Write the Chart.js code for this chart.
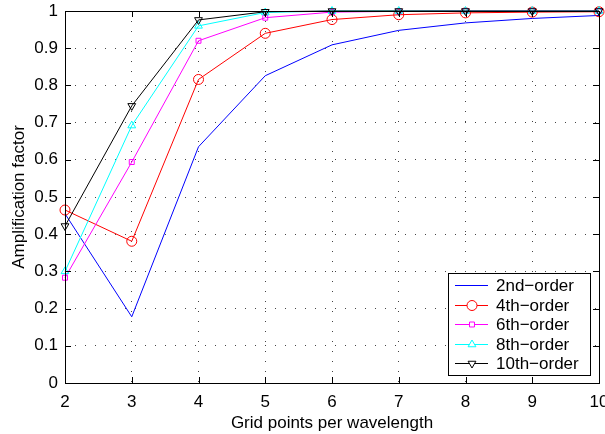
<!DOCTYPE html>
<html>
<head>
<meta charset="utf-8">
<script src="https://cdn.jsdelivr.net/npm/chart.js@4"></script>
<style>
  html, body { margin: 0; padding: 0; background: #fff; }
  #wrap { width: 605px; height: 434px; position: relative; }
</style>
</head>
<body>
<div id="wrap"><canvas id="chart" width="605" height="434"></canvas></div>
<script>
// Data
const gridPoints = [2, 3, 4, 5, 6, 7, 8, 9, 10];
const order2 = [0.455, 0.178, 0.635, 0.826, 0.909, 0.948, 0.968, 0.980, 0.988];
const order4 = [0.465, 0.381, 0.816, 0.940, 0.977, 0.990, 0.995, 0.997, 0.998];
const order6 = [0.283, 0.594, 0.920, 0.982, 0.997, 0.999, 1.0, 1.0, 1.0];
const order8 = [0.300, 0.692, 0.960, 0.996, 1.0, 1.0, 1.0, 1.0, 1.0];
const order10 = [0.422, 0.745, 0.976, 0.998, 1.0, 1.0, 1.0, 1.0, 1.0];
const seriesNames = ['2nd\u2212order', '4th\u2212order', '6th\u2212order', '8th\u2212order', '10th\u2212order'];
const yTicks = [0, 0.1, 0.2, 0.3, 0.4, 0.5, 0.6, 0.7, 0.8, 0.9, 1];

const FONT = 'Liberation Sans, Arial, Helvetica, sans-serif';

const styles = [
    { color: '#0000ff', point: false, rot: 0, r: 0 },
    { color: '#ff0000', point: 'circle', rot: 0, r: 5 },
    { color: '#ff00ff', point: 'rect', rot: 0, r: 3.5 },
    { color: '#00ffff', point: 'triangle', rot: 0, r: 4.5 },
    { color: '#000000', point: 'triangle', rot: 180, r: 4.5 }
];

const allSeries = [order2, order4, order6, order8, order10];

const datasets = allSeries.map((vals, i) => ({
    label: seriesNames[i],
    data: gridPoints.map((x, j) => ({ x: x, y: vals[j] })),
    borderColor: styles[i].color,
    backgroundColor: 'rgba(0,0,0,0)',
    borderWidth: 1,
    pointStyle: styles[i].point,
    pointRotation: styles[i].rot,
    pointRadius: styles[i].r,
    pointBorderWidth: 1,
    pointBorderColor: styles[i].color,
    pointBackgroundColor: 'rgba(0,0,0,0)',
    tension: 0,
    clip: false,
    order: allSeries.length - i
}));

// Inward ticks, box, and legend drawn MATLAB-style
const matlabFrame = {
    id: 'matlabFrame',
    afterDraw(chart) {
        const ctx = chart.ctx;
        const a = chart.chartArea;
        const xs = chart.scales.x, ys = chart.scales.y;
        ctx.save();
        ctx.setLineDash([]);
        ctx.strokeStyle = '#000';
        ctx.lineWidth = 1;
        ctx.beginPath();
        gridPoints.forEach(v => {
            const px = Math.round(xs.getPixelForValue(v)) + 0.5;
            ctx.moveTo(px, a.bottom); ctx.lineTo(px, a.bottom - 6);
            ctx.moveTo(px, a.top); ctx.lineTo(px, a.top + 6);
        });
        yTicks.forEach(v => {
            const py = Math.round(ys.getPixelForValue(v)) + 0.5;
            ctx.moveTo(a.left, py); ctx.lineTo(a.left + 6, py);
            ctx.moveTo(a.right, py); ctx.lineTo(a.right - 6, py);
        });
        ctx.stroke();
        ctx.strokeRect(Math.round(a.left) + 0.5, Math.round(a.top) + 0.5,
            Math.round(a.right - a.left), Math.round(a.bottom - a.top));

        // legend
        const lx = 448, ly = 273, lw = 142, lh = 102;
        ctx.fillStyle = '#fff';
        ctx.fillRect(lx, ly, lw, lh);
        ctx.strokeStyle = '#000';
        ctx.strokeRect(lx + 0.5, ly + 0.5, lw, lh);
        ctx.font = '17px ' + FONT;
        ctx.textBaseline = 'middle';
        ctx.textAlign = 'left';
        seriesNames.forEach((name, i) => {
            const cy = Math.round(ly + 12 + i * 19.5);
            const st = styles[i];
            ctx.fillStyle = st.color;
            ctx.fillRect(455, cy, 33, 1);
            if (st.point) {
                ctx.lineWidth = 1;
                ctx.strokeStyle = st.color;
                ctx.fillStyle = '#fff';
                Chart.helpers.drawPoint(ctx, {
                    pointStyle: st.point, rotation: st.rot, radius: st.r, borderWidth: 1
                }, 472, cy + 0.5);
            }
            ctx.fillStyle = '#000';
            ctx.fillText(name, 496, cy + 1.5);
        });
        ctx.restore();
    }
};

new Chart(document.getElementById('chart').getContext('2d'), {
    type: 'line',
    data: { datasets: datasets },
    options: {
        responsive: false,
        animation: false,
        layout: { padding: { top: 11, right: 6, left: 0, bottom: 0 } },
        plugins: { legend: { display: false }, tooltip: { enabled: false } },
        scales: {
            x: {
                type: 'linear',
                min: 2, max: 10,
                afterBuildTicks: s => { s.ticks = gridPoints.map(v => ({ value: v })); },
                afterFit: s => { s.height = 51; s.paddingLeft = 0; s.paddingRight = 0; },
                grid: { color: '#444', lineWidth: 1, drawTicks: false, drawOnChartArea: true },
                border: { display: false, dash: [1, 9] },
                ticks: { color: '#000', font: { family: FONT, size: 17 }, padding: 9, maxRotation: 0 },
                title: { display: true, text: 'Grid points per wavelength', color: '#000', font: { family: FONT, size: 17 }, padding: { top: 0, bottom: 0 } }
            },
            y: {
                min: 0, max: 1,
                afterBuildTicks: s => { s.ticks = yTicks.map(v => ({ value: v })); },
                afterFit: s => { s.width = 65; s.paddingTop = 0; s.paddingBottom = 0; },
                grid: { color: '#444', lineWidth: 1, drawTicks: false },
                border: { display: false, dash: [1, 9] },
                ticks: { color: '#000', font: { family: FONT, size: 17 }, padding: 7, callback: v => String(v) },
                title: { display: true, text: 'Amplification factor', color: '#000', font: { family: FONT, size: 17 }, padding: { top: 9, bottom: 0 } }
            }
        }
    },
    plugins: [matlabFrame]
});
</script>
</body>
</html>
